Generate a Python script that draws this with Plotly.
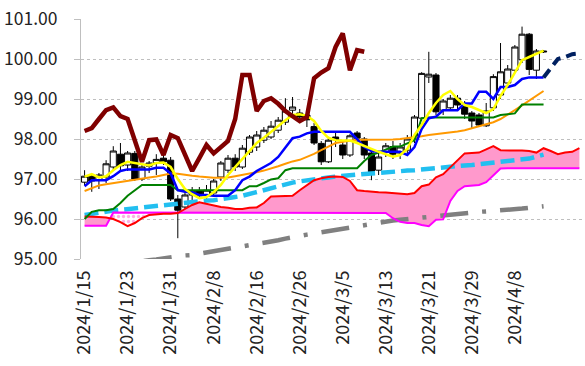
import plotly.graph_objects as go

# ---------------- data ----------------
tick_labels = ["2024/1/15", "2024/1/23", "2024/1/31", "2024/2/8", "2024/2/16",
               "2024/2/26", "2024/3/5", "2024/3/13", "2024/3/21", "2024/3/29",
               "2024/4/8"]
tick_index = [0, 6, 12, 18, 24, 30, 36, 42, 48, 54, 60]

opens = [96.92, 97.07, 96.97, 97.05, 97.30, 97.62, 97.35, 97.64, 97.00, 97.32,
         97.40, 97.52, 97.47, 96.50, 96.30, 96.60, 96.70, 96.60, 96.65, 97.05,
         97.22, 97.52, 97.30, 97.67, 97.80, 97.97, 98.05, 98.22, 98.42, 98.72,
         98.65, 98.60, 98.31, 97.89, 97.43, 98.05, 97.85, 97.60, 98.15, 98.00,
         97.65, 97.22, 97.68, 97.81, 97.65, 97.72, 98.00, 98.52, 99.55, 99.60,
         98.72, 98.78, 99.02, 98.85, 98.65, 98.60, 98.33, 98.78, 99.10, 99.40,
         99.72, 99.98, 100.62, 99.72, 100.20]
highs = [97.22, 97.12, 97.15, 97.47, 97.82, 97.90, 97.70, 97.70, 97.35, 97.45,
         97.62, 97.60, 97.55, 96.60, 96.70, 96.80, 96.80, 96.85, 97.00, 97.45,
         97.60, 97.62, 97.85, 98.10, 98.20, 98.30, 98.45, 98.55, 99.02, 99.05,
         98.75, 98.70, 98.40, 97.95, 98.05, 98.15, 97.95, 98.12, 98.20, 98.05,
         97.70, 97.70, 97.90, 97.95, 97.90, 98.10, 98.60, 99.67, 100.18, 99.65,
         99.00, 99.10, 99.10, 98.95, 98.70, 98.65, 98.90, 99.62, 100.40, 99.85,
         100.35, 100.81, 100.65, 100.25, 100.22]
lows = [96.85, 96.68, 96.75, 96.90, 97.20, 97.20, 97.20, 96.95, 96.95, 97.15,
        97.10, 97.35, 96.45, 95.52, 96.20, 96.45, 96.50, 96.50, 96.55, 96.95,
        97.15, 97.20, 97.25, 97.60, 97.70, 97.90, 98.00, 98.15, 98.35, 98.60,
        98.45, 98.30, 97.85, 97.35, 97.40, 97.80, 97.50, 97.55, 97.90, 97.50,
        96.97, 97.10, 97.55, 97.50, 97.50, 97.60, 97.90, 98.45, 99.40, 98.60,
        98.60, 98.70, 98.75, 98.50, 98.27, 98.30, 98.30, 98.70, 99.00, 99.30,
        99.65, 99.90, 99.60, 99.50, 100.15]
closes = [97.07, 96.95, 97.10, 97.38, 97.70, 97.33, 97.65, 97.00, 97.30, 97.40,
          97.49, 97.43, 96.50, 96.22, 96.60, 96.70, 96.58, 96.72, 96.95, 97.40,
          97.52, 97.30, 97.77, 98.05, 98.10, 98.22, 98.32, 98.47, 98.70, 98.80,
          98.55, 98.48, 97.90, 97.43, 97.97, 97.98, 97.60, 98.08, 98.02, 97.60,
          97.18, 97.55, 97.83, 97.62, 97.80, 98.00, 98.55, 99.64, 99.62, 98.68,
          98.95, 99.02, 98.85, 98.62, 98.45, 98.35, 98.70, 99.56, 99.68, 99.75,
          100.30, 100.62, 99.74, 100.20, 100.18]

ma_yellow = [97.06, 97.12, 97.04, 97.07, 97.22, 97.35, 97.43, 97.40, 97.37, 97.34,
             97.40, 97.41, 97.30, 97.00, 96.75, 96.62, 96.52, 96.55, 96.67, 96.85,
             97.10, 97.30, 97.50, 97.72, 97.90, 98.03, 98.18, 98.33, 98.47, 98.60,
             98.62, 98.58, 98.45, 98.20, 98.03, 97.97, 97.97, 97.96, 97.90, 97.82,
             97.75, 97.68, 97.62, 97.56, 97.60, 97.75, 98.10, 98.35, 98.65, 98.90,
             99.10, 99.20, 99.00, 98.85, 98.80, 98.72, 98.65, 98.75, 99.08, 99.35,
             99.65, 99.97, 100.05, 100.12, 100.21]
tenkan_blue = [96.82, 96.97, 96.97, 96.97, 97.07, 97.20, 97.24, 97.24, 97.24, 97.24,
               97.28, 97.28, 97.14, 96.72, 96.68, 96.66, 96.60, 96.60, 96.58, 96.58,
               96.58, 96.72, 96.97, 97.06, 97.20, 97.30, 97.40, 97.55, 97.80, 98.02,
               98.06, 98.14, 98.18, 98.18, 98.18, 98.18, 98.18, 98.18, 98.00, 97.80,
               97.70, 97.68, 97.68, 97.68, 97.68, 97.60, 97.80, 98.25, 98.52, 98.56,
               98.72, 98.72, 98.72, 98.89, 98.89, 99.18, 99.18, 99.00, 99.30, 99.30,
               99.35, 99.50, 99.54, 99.54, 99.54]
tenkan_future = [99.54, 99.77, 100.00, 100.05, 100.12, 100.14]
kijun_green = [96.00, 96.18, 96.22, 96.22, 96.25, 96.40, 96.58, 96.72, 96.85, 96.85,
               96.85, 96.85, 96.85, 96.72, 96.72, 96.72, 96.72, 96.72, 96.72, 96.72,
               96.72, 96.72, 96.72, 96.82, 96.82, 96.90, 96.99, 97.02, 97.22, 97.27,
               97.27, 97.27, 97.27, 97.27, 97.27, 97.27, 97.27, 97.27, 97.27, 97.45,
               97.60, 97.66, 97.74, 97.81, 97.81, 97.90, 97.97, 98.52, 98.54, 98.54,
               98.54, 98.54, 98.54, 98.54, 98.54, 98.54, 98.54, 98.54, 98.60, 98.62,
               98.64, 98.86, 98.86, 98.86, 98.86]
ma_orange = [96.70, 96.78, 96.84, 96.87, 96.90, 96.93, 96.96, 96.98, 97.02, 97.04,
             97.06, 97.10, 97.14, 97.13, 97.10, 97.08, 97.06, 97.04, 97.03, 97.03,
             97.04, 97.07, 97.10, 97.13, 97.17, 97.21, 97.26, 97.32, 97.38, 97.44,
             97.48, 97.55, 97.63, 97.72, 97.82, 97.90, 97.93, 97.96, 97.98, 97.98,
             97.98, 97.98, 97.98, 97.99, 98.00, 98.02, 98.05, 98.07, 98.10, 98.12,
             98.14, 98.16, 98.19, 98.22, 98.27, 98.32, 98.37, 98.42, 98.50, 98.60,
             98.72, 98.84, 98.96, 99.08, 99.20]
ma_lightblue = [96.10, 96.13, 96.16, 96.20, 96.21, 96.23, 96.25, 96.28, 96.29, 96.31,
                96.33, 96.36, 96.38, 96.40, 96.42, 96.43, 96.44, 96.46, 96.47, 96.49,
                96.52, 96.55, 96.58, 96.63, 96.67, 96.72, 96.77, 96.82, 96.87, 96.91,
                96.94, 96.97, 97.00, 97.02, 97.04, 97.06, 97.08, 97.10, 97.12, 97.13,
                97.14, 97.15, 97.17, 97.18, 97.20, 97.21, 97.22, 97.24, 97.26, 97.28,
                97.30, 97.31, 97.32, 97.34, 97.35, 97.37, 97.38, 97.40, 97.41, 97.43,
                97.45, 97.47, 97.51, 97.56, 97.61]
ma_gray = [94.72, 94.75, 94.78, 94.80, 94.83, 94.86, 94.89, 94.91, 94.94, 94.97,
           94.99, 95.02, 95.05, 95.07, 95.09, 95.10, 95.13, 95.16, 95.18, 95.21,
           95.24, 95.27, 95.30, 95.33, 95.36, 95.39, 95.43, 95.47, 95.51, 95.55,
           95.58, 95.61, 95.64, 95.67, 95.70, 95.73, 95.77, 95.80, 95.83, 95.86,
           95.89, 95.92, 95.94, 95.96, 95.98, 96.00, 96.02, 96.04, 96.06, 96.08,
           96.10, 96.12, 96.13, 96.15, 96.16, 96.18, 96.19, 96.20, 96.22, 96.23,
           96.24, 96.26, 96.28, 96.30, 96.32]
span_a = [96.06, 96.06, 96.05, 96.04, 96.00, 95.92, 95.82, 95.90, 96.02, 96.10,
          96.12, 96.13, 96.13, 96.15, 96.25, 96.35, 96.42, 96.38, 96.33, 96.30,
          96.28, 96.25, 96.25, 96.28, 96.29, 96.40, 96.56, 96.57, 96.57, 96.58,
          96.72, 96.85, 96.97, 97.02, 97.05, 97.06, 97.05, 96.95, 96.72, 96.70,
          96.68, 96.67, 96.66, 96.65, 96.63, 96.62, 96.65, 96.82, 96.86, 97.04,
          97.12, 97.30, 97.48, 97.64, 97.65, 97.66, 97.74, 97.82, 97.72, 97.71,
          97.71, 97.71, 97.70, 97.66, 97.77, 97.70, 97.62, 97.66, 97.68, 97.77]
span_b = [95.83, 95.83, 95.83, 95.83,
          96.16, 96.16, 96.16, 96.16, 96.16, 96.16, 96.16, 96.16, 96.16, 96.16,
          96.15, 96.15, 96.15, 96.15, 96.15, 96.15, 96.15, 96.15, 96.15, 96.15,
          96.15, 96.15, 96.15, 96.15, 96.15, 96.15, 96.15, 96.15, 96.15, 96.15,
          96.15, 96.15, 96.15, 96.15, 96.15, 96.15, 96.15, 96.15, 96.15,
          96.02, 95.93, 95.90, 95.90, 95.85, 95.82, 95.98, 95.99,
          96.45, 96.70, 96.82, 96.84, 96.85, 96.92, 97.08, 97.26,
          97.27, 97.27, 97.27, 97.27, 97.27, 97.27, 97.27, 97.27, 97.27, 97.27, 97.27]
chikou = [98.20, 98.27, 98.50, 98.72, 98.79, 98.57, 98.50, 97.95, 97.43, 97.97,
          97.99, 97.60, 98.10, 98.02, 97.60, 97.20, 97.52, 97.85, 97.64, 97.80,
          97.95, 98.50, 99.60, 99.60, 98.70, 98.95, 99.02, 98.88, 98.70, 98.57,
          98.45, 98.55, 99.52, 99.66, 99.77, 100.30, 100.64, 99.72, 100.22, 100.18]
twist_start, twist_end = 4, 13   # span B above span A (dotted part of the cloud)

# ---------------- figure ----------------
x_price = list(range(len(closes)))
x_cloud = list(range(len(span_a)))
x_chikou = list(range(len(chikou)))
x_future = list(range(len(closes) - 1, len(closes) - 1 + len(tenkan_future)))

fig = go.Figure()

def line(x, y, color, width, dash="solid"):
    fig.add_trace(go.Scatter(x=x, y=y, mode="lines",
                             line=dict(color=color, width=width, dash=dash),
                             hoverinfo="skip", showlegend=False))

# cloud
fig.add_trace(go.Scatter(x=x_cloud, y=span_b, mode="lines", line=dict(width=0),
                         hoverinfo="skip", showlegend=False))
fig.add_trace(go.Scatter(x=x_cloud, y=span_a, mode="lines", line=dict(width=0),
                         fill="tonexty", fillcolor="#FF99CC",
                         hoverinfo="skip", showlegend=False))
tw = list(range(twist_start, twist_end + 1))
fig.add_trace(go.Scatter(x=[x_cloud[i] for i in tw], y=[span_b[i] for i in tw],
                         mode="lines", line=dict(width=0),
                         hoverinfo="skip", showlegend=False))
fig.add_trace(go.Scatter(x=[x_cloud[i] for i in tw], y=[span_a[i] for i in tw],
                         mode="lines", line=dict(width=0), fill="tonexty",
                         fillpattern=dict(shape=".", bgcolor="white",
                                          fgcolor="#FF5CC8", size=5, solidity=0.35),
                         hoverinfo="skip", showlegend=False))

line(x_price, ma_gray, "#808080", 4.5, "28px,14px,4px,14px")
line(x_price, ma_lightblue, "#22BFF0", 4.5, "14px,6px")
line(x_cloud, span_b, "#FF00FF", 2)
line(x_cloud, span_a, "#FF0000", 2)

fig.add_trace(go.Candlestick(
    x=x_price, open=opens, high=highs, low=lows, close=closes,
    increasing=dict(line=dict(color="black", width=1), fillcolor="white"),
    decreasing=dict(line=dict(color="black", width=1), fillcolor="black"),
    hoverinfo="skip", showlegend=False))

line(x_price, ma_orange, "#FF9900", 2)
line(x_price, kijun_green, "#008000", 2)
line(x_price, tenkan_blue, "#0000FF", 2.5)
line(x_future, tenkan_future, "#002060", 4, "10px,6px")
line(x_price, ma_yellow, "#FFFF00", 2.5)
line(x_chikou, chikou, "#800000", 4.5)

xfont = dict(family="Noto Sans CJK JP, Liberation Sans, sans-serif", size=18, color="#222222")
yfont = dict(family="Noto Sans CJK JP, Liberation Sans, sans-serif", size=17.5, color="#222222")
fig.update_layout(
    width=585, height=366,
    margin=dict(l=81, r=2, t=19, b=107),
    paper_bgcolor="white", plot_bgcolor="white",
    showlegend=False, boxgap=0.15, boxgroupgap=0,
    xaxis=dict(range=[-0.5, 69.5], tickmode="array", tickvals=tick_index,
               ticktext=tick_labels, tickangle=-90, showgrid=False,
               zeroline=False, showline=False, ticks="", automargin=False,
               rangeslider=dict(visible=False), tickfont=xfont,
               ticklabelstandoff=7),
    yaxis=dict(range=[95, 101], tick0=95, dtick=1, tickformat=".2f",
               showgrid=True, gridcolor="#BFBFBF", griddash="dot", gridwidth=1,
               showline=True, linecolor="#BFBFBF", linewidth=1, automargin=False,
               ticks="outside", ticklen=6, tickcolor="#BFBFBF",
               zeroline=False, tickfont=yfont, ticklabelstandoff=13),
)

fig.write_html("out.html", config={"displayModeBar": False},
               post_script="document.body.style.margin='0px';document.body.style.padding='0px';")
